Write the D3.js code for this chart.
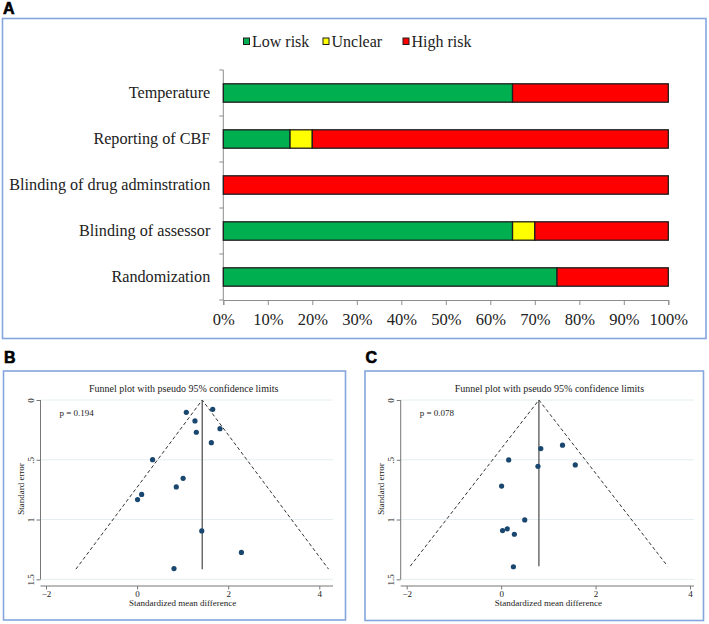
<!DOCTYPE html>
<html>
<head>
<meta charset="utf-8">
<script src="https://cdn.jsdelivr.net/npm/d3@7"></script>
<style>
  body { margin: 0; background: #fff; }
  svg { display: block; }
  .serif { font-family: "Liberation Serif", "Times New Roman", serif; fill: #222; }
  .panelLabel { font-family: "Liberation Sans", Arial, sans-serif; font-weight: bold; font-size: 16px; fill: #000; stroke: #000; stroke-width: 0.6; }
</style>
</head>
<body>
<svg id="chart" width="709" height="624"></svg>
<script>
// Panel A: risk of bias (percent of studies)
const categories = ['Temperature', 'Reporting of CBF', 'Blinding of drug adminstration', 'Blinding of assessor', 'Randomization']
const lowRisk = [65, 15, 0, 65, 75]
const unclear = [0, 5, 0, 5, 0]
const highRisk = [35, 80, 100, 30, 25]
const riskLevels = ['Low risk', 'Unclear', 'High risk']
const riskColors = ['#00b050', '#ffff00', '#ff0000']
const percentTicks = [0, 10, 20, 30, 40, 50, 60, 70, 80, 90, 100]

// Panel B funnel plot
const smdB = [1.08, 1.66, 1.27, 1.82, 1.30, 1.63, 0.34, 1.01, 0.86, 0.10, 0.01, 1.42, 2.29, 0.81]
const seB = [0.103, 0.078, 0.175, 0.24, 0.27, 0.357, 0.499, 0.655, 0.727, 0.79, 0.833, 1.095, 1.275, 1.41]
const pooledB = 1.43
const seMaxB = 1.415
const pB = 'p = 0.194'

// Panel C funnel plot
const smdC = [0.84, 1.30, 0.16, 0.78, 1.57, 0.01, 0.50, 0.03, 0.13, 0.28, 0.26]
const seC = [0.406, 0.378, 0.501, 0.555, 0.543, 0.72, 1.003, 1.092, 1.078, 1.123, 1.395]
const pooledC = 0.80
const seMaxC = 1.39
const pC = 'p = 0.078'

const xTicksFunnel = [-2, 0, 2, 4]
const yTicksFunnel = [0, 0.5, 1, 1.5]
const frameColor = '#84a6dc'

const svg = d3.select('#chart')
svg.append('rect').attr('width', 709).attr('height', 624).attr('fill', '#fff')

drawRiskPanel()
drawFunnel({
  label: 'B', frame: [3.5, 371, 342, 249],
  xRange: [46, 319.3], axisX: 40.5, axisRight: 333,
  smd: smdB, se: seB, pooled: pooledB, seMax: seMaxB, p: pB
})
drawFunnel({
  label: 'C', frame: [365, 371, 338.5, 249.5],
  xRange: [406.7, 690], axisX: 400.7, axisRight: 694,
  smd: smdC, se: seC, pooled: pooledC, seMax: seMaxC, p: pC
})

function drawRiskPanel () {
  svg.append('text').attr('class', 'panelLabel').attr('x', 3).attr('y', 13.5).text('A')
  svg.append('rect') // panel frame
    .attr('x', 2.5).attr('y', 18.5).attr('width', 703.5).attr('height', 320)
    .attr('fill', 'none').attr('stroke', frameColor).attr('stroke-width', 1.6)

  const x = d3.scaleLinear().domain([0, 100]).range([223.3, 668.3])
  const y = d3.scaleBand().domain(categories).range([70, 300]).paddingInner(0.6).paddingOuter(0.3)

  // stack the three risk levels
  const rows = categories.map((c, i) => ({ cat: c, vals: [lowRisk[i], unclear[i], highRisk[i]] }))
  const segs = []
  rows.forEach((r) => {
    let acc = 0
    r.vals.forEach((v, k) => {
      if (v > 0) segs.push({ cat: r.cat, x0: acc, x1: acc + v, k })
      acc += v
    })
  })

  // y axis line and boundary ticks
  const bounds = categories.map((c) => y(c) - y.step() * 0.3).concat([y(categories[categories.length - 1]) + y.bandwidth() + y.step() * 0.3])
  svg.append('line').attr('x1', x(0)).attr('x2', x(0)).attr('y1', bounds[0]).attr('y2', bounds[bounds.length - 1])
    .attr('stroke', '#8c8c8c').attr('stroke-width', 1)
  svg.append('g').selectAll('line').data(bounds).join('line')
    .attr('x1', x(0) - 4).attr('x2', x(0)).attr('y1', (d) => d).attr('y2', (d) => d)
    .attr('stroke', '#8c8c8c').attr('stroke-width', 1)

  svg.append('g').selectAll('rect').data(segs).join('rect')
    .attr('x', (d) => x(d.x0))
    .attr('y', (d) => y(d.cat))
    .attr('width', (d) => x(d.x1) - x(d.x0))
    .attr('height', y.bandwidth())
    .attr('fill', (d) => riskColors[d.k])
    .attr('stroke', '#1e1e1e').attr('stroke-width', 1.3)

  // category labels
  const yAx = svg.append('g').attr('transform', `translate(${x(0)},0)`)
    .call(d3.axisLeft(y).tickSize(0).tickPadding(13))
  yAx.select('.domain').remove()
  yAx.selectAll('text').attr('class', 'serif').attr('font-size', 16.2).attr('dy', '0.32em')

  // x axis
  const xAx = svg.append('g').attr('transform', `translate(0,${bounds[bounds.length - 1]})`)
    .call(d3.axisBottom(x).tickValues(percentTicks).tickSize(5).tickPadding(8).tickFormat((t) => `${t}%`))
  xAx.select('.domain').attr('stroke', '#8c8c8c')
  xAx.selectAll('.tick line').attr('stroke', '#8c8c8c')
  xAx.selectAll('text').attr('class', 'serif').attr('font-size', 16.5).attr('font-family', null)

  // legend
  const legX = [243.5, 323, 403]
  const leg = svg.append('g').selectAll('g').data(riskLevels).join('g')
    .attr('transform', (d, i) => `translate(${legX[i]},38)`)
  leg.append('rect').attr('width', 6).attr('height', 6.5)
    .attr('fill', (d, i) => riskColors[i]).attr('stroke', '#1e1e1e').attr('stroke-width', 1)
  leg.append('text').attr('class', 'serif').attr('x', 8.5).attr('y', 3.4).attr('dy', '0.35em')
    .attr('font-size', 16).text((d) => d)
}

function drawFunnel (o) {
  const [fx, fy, fw, fh] = o.frame
  svg.append('text').attr('class', 'panelLabel').attr('x', fx + 0.5).attr('y', fy - 8).text(o.label)
  svg.append('rect')
    .attr('x', fx).attr('y', fy).attr('width', fw).attr('height', fh)
    .attr('fill', 'none').attr('stroke', frameColor).attr('stroke-width', 1.6)

  const x = d3.scaleLinear().domain([-2, 4]).range(o.xRange)
  const y = d3.scaleLinear().domain([0, 1.5]).range([400, 579.3])
  const axisY = 586
  const g = svg.append('g')

  // gridlines
  g.selectAll('line.grid').data(yTicksFunnel).join('line').attr('class', 'grid')
    .attr('x1', o.axisX).attr('x2', o.axisRight).attr('y1', (d) => y(d)).attr('y2', (d) => y(d))
    .attr('stroke', '#e4eef0').attr('stroke-width', 1)

  // y axis
  const yAx = g.append('g').attr('transform', `translate(${o.axisX},0)`)
    .call(d3.axisLeft(y).tickValues(yTicksFunnel).tickSize(4).tickPadding(3)
      .tickFormat((t) => t === 0 ? '0' : t === 1 ? '1' : String(t).replace(/^0/, '')))
  yAx.select('.domain').attr('d', `M-0,${y(0)}V${y(1.5)}`).attr('stroke', '#777')
  yAx.selectAll('.tick line').attr('stroke', '#777')
  yAx.selectAll('.tick text')
    .attr('class', 'serif').attr('font-size', 9).attr('font-family', null)
    .attr('text-anchor', 'middle').attr('x', null).attr('dy', null)
    .attr('transform', 'translate(-10,0) rotate(-90)')
    .attr('dominant-baseline', 'central')

  // x axis
  const xAx = g.append('g').attr('transform', `translate(0,${axisY})`)
    .call(d3.axisBottom(x).tickValues(xTicksFunnel).tickSize(3.5).tickPadding(1.5).tickFormat(d3.format('d')))
  xAx.select('.domain').attr('d', `M${o.axisX},0H${o.axisRight}`).attr('stroke', '#777')
  xAx.selectAll('.tick line').attr('stroke', '#777')
  xAx.selectAll('.tick text').attr('class', 'serif').attr('font-size', 9).attr('font-family', null)

  // axis titles
  const cx = (x(-2) + x(4)) / 2
  g.append('text').attr('class', 'serif').attr('font-size', 9).attr('text-anchor', 'middle')
    .attr('x', cx).attr('y', 606).text('Standardized mean difference')
  g.append('text').attr('class', 'serif').attr('font-size', 9).attr('text-anchor', 'middle')
    .attr('transform', `translate(${o.axisX - 17},489) rotate(-90)`).text('Standard error')
  g.append('text').attr('class', 'serif').attr('font-size', 10).attr('text-anchor', 'middle')
    .attr('x', cx + 1).attr('y', 391.5).text('Funnel plot with pseudo 95% confidence limits')
  g.append('text').attr('class', 'serif').attr('font-size', 9)
    .attr('x', o.axisX + 19).attr('y', 416).text(o.p)

  // pseudo 95% limits
  const lo = o.pooled - 1.96 * o.seMax
  const hi = o.pooled + 1.96 * o.seMax
  const line = d3.line().x((d) => x(d[0])).y((d) => y(d[1]))
  g.append('path').attr('d', line([[lo, o.seMax], [o.pooled, 0], [hi, o.seMax]]))
    .attr('fill', 'none').attr('stroke', '#333').attr('stroke-width', 1).attr('stroke-dasharray', '3.5,2.5')
  g.append('path').attr('d', line([[o.pooled, 0], [o.pooled, o.seMax]]))
    .attr('fill', 'none').attr('stroke', '#555').attr('stroke-width', 1.3)

  g.selectAll('circle').data(o.smd).join('circle')
    .attr('cx', (d) => x(d)).attr('cy', (d, i) => y(o.se[i]))
    .attr('r', 2.6).attr('fill', '#1a476f')
}
</script>
</body>
</html>
